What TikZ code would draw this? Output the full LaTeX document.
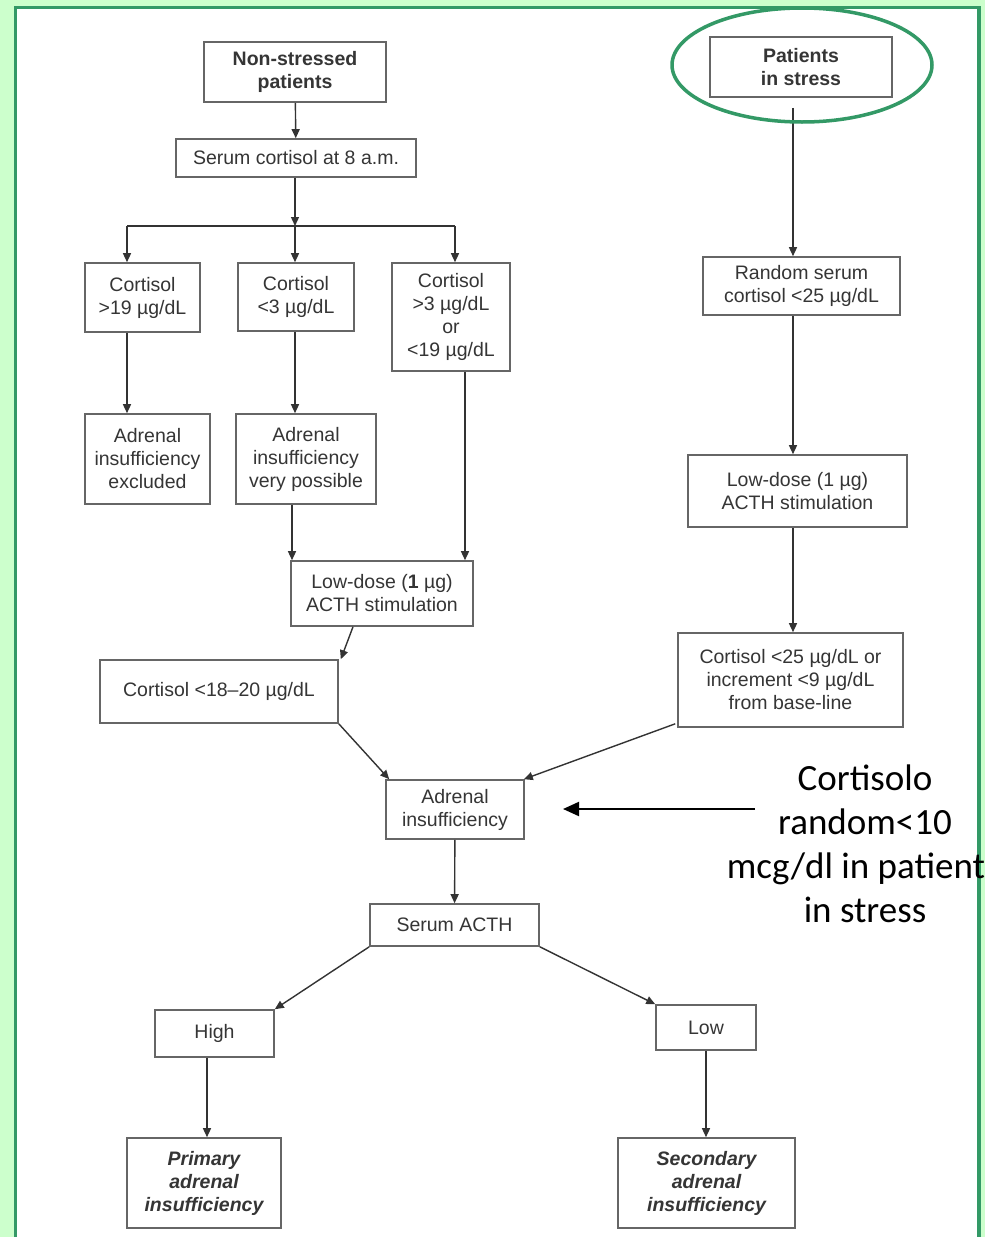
\documentclass[tikz,border=0pt]{standalone}
\usepackage{fontspec}
\setmainfont{Liberation Sans}
\newfontfamily\calibfont{Carlito}
\usetikzlibrary{arrows.meta}
\definecolor{bggreen}{HTML}{CCFFCC}
\definecolor{frgreen}{HTML}{339966}
\definecolor{boxline}{HTML}{666666}
\definecolor{txt}{HTML}{353535}
\definecolor{linec}{HTML}{333333}
\newcommand\boxfs{\fontsize{19.5}{23}\selectfont}
\begin{document}
\begin{tikzpicture}[x=1pt,y=-1pt,
  box/.style={draw=boxline, line width=1.6pt, fill=white, inner sep=0pt, align=center, text=txt, font=\boxfs},
  boldbox/.style={box, font=\boxfs\bfseries},
  bibox/.style={box, font=\boxfs\bfseries\itshape},
  arr/.style={draw=linec, line width=1.4pt, -{Triangle[length=9pt,width=8pt]}},
  plain/.style={draw=linec, line width=1.4pt},
  note/.style={font=\calibfont\fontsize{37}{44}\selectfont, align=center, inner sep=0pt, text=black}
]
\useasboundingbox (0,0) rectangle (985,1237);
\fill[bggreen] (0,0) rectangle (985,1237);
\draw[frgreen, line width=3.5pt, fill=white] (15.5,7.5) rectangle (979,1250);

% left branch
\node[boldbox, minimum width=182pt, minimum height=60pt] (ns) at (295,72) {Non-stressed\\patients};
\node[box, minimum width=240pt, minimum height=38pt] (sc) at (296,158) {Serum cortisol at 8 a.m.};
\node[box, minimum width=115pt, minimum height=69pt] (c3) at (142.5,297.5) {Cortisol\\>19 µg/dL};
\node[box, minimum width=116pt, minimum height=68pt] (c4) at (296,297) {Cortisol\\<3 µg/dL};
\node[box, minimum width=118pt, minimum height=108pt] (c5) at (451,317) {Cortisol\\>3 µg/dL\\or\\<19 µg/dL};
\node[box, minimum width=125pt, minimum height=90pt] (ex) at (147.5,459) {Adrenal\\insufficiency\\excluded};
\node[box, minimum width=140pt, minimum height=90pt] (vp) at (306,459) {Adrenal\\insufficiency\\very possible};
\node[box, minimum width=182pt, minimum height=65pt] (ld1) at (382,593.5) {Low-dose (\textbf{1} µg)\\ACTH stimulation};
\node[box, minimum width=238pt, minimum height=63pt] (c18) at (219,691.5) {Cortisol <18–20 µg/dL};
\node[box, minimum width=138pt, minimum height=59pt] (ai) at (455,809.5) {Adrenal\\insufficiency};
\node[box, minimum width=169pt, minimum height=42pt] (acth) at (454.5,925) {Serum ACTH};
\node[box, minimum width=119pt, minimum height=47pt] (high) at (214.5,1033.5) {High};
\node[bibox, minimum width=154pt, minimum height=90pt] (prim) at (204,1183) {Primary\\adrenal\\insufficiency};

% right branch
\node[boldbox, minimum width=182pt, minimum height=60pt] (pis) at (801,67) {Patients\\in stress};
\node[box, minimum width=197pt, minimum height=58pt] (rs) at (801.5,286) {Random serum\\cortisol <25 µg/dL};
\node[box, minimum width=219pt, minimum height=72pt] (ld2) at (797.5,491) {Low-dose (1 µg)\\ACTH stimulation};
\node[box, minimum width=225pt, minimum height=94pt] (c25) at (790.5,680) {Cortisol <25 µg/dL or\\increment <9 µg/dL\\from base-line};
\node[box, minimum width=100pt, minimum height=45pt] (low) at (706,1027.5) {Low};
\node[bibox, minimum width=177pt, minimum height=90pt] (sec) at (706.5,1183) {Secondary\\adrenal\\insufficiency};

% annotation
\node[note] (nt) at (865,844) {Cortisolo\\random<10\\mcg/dl in patient\rule{18pt}{0pt}\\in stress};

% helper coordinates
\coordinate (br) at (295,226);
\coordinate (xA) at (127,0);
\coordinate (xC) at (455,0);
\coordinate (xD) at (292,0);
\coordinate (xE) at (465,0);
\coordinate (xR) at (793,0);
\coordinate (xH) at (207,0);
\coordinate (xL) at (706,0);
\coordinate (annS) at (755,809);
\coordinate (annE) at (563,809);

% connectors
\draw[arr] (ns) -- (sc);
\draw[arr] (sc.south -| br) -- (br);
\draw[plain] (br -| xA) -- (br -| xC);
\draw[arr] (br -| xA) -- (c3.north -| xA);
\draw[arr] (br) -- (c4.north -| br);
\draw[arr] (br -| xC) -- (c5.north -| xC);
\draw[arr] (c3.south -| xA) -- (ex.north -| xA);
\draw[arr] (c4.south -| br) -- (vp.north -| br);
\draw[arr] (vp.south -| xD) -- (ld1.north -| xD);
\draw[arr] (c5.south -| xE) -- (ld1.north -| xE);
\draw[arr] ([xshift=-29pt]ld1.south) -- ([xshift=2pt]c18.north east);
\draw[arr] (c18.south east) -- ([xshift=4pt]ai.north west);
\draw[arr] ([xshift=-2pt,yshift=4pt]c25.south west) -- ([xshift=-1pt]ai.north east);
\draw[arr] (ai) -- (acth);
\draw[arr] (acth.south west) -- (high.north east);
\draw[arr] (acth.south east) -- (low.north west);
\draw[arr] (high.south -| xH) -- (prim.north -| xH);
\draw[arr] (low.south -| xL) -- (sec.north -| xL);
\draw[arr, shorten <=10pt] (pis.south -| xR) -- (rs.north -| xR);
\draw[arr] (rs.south -| xR) -- (ld2.north -| xR);
\draw[arr] (ld2.south -| xR) -- (c25.north -| xR);
\draw[line width=2pt, -{Triangle[length=16pt,width=14pt]}] (annS) -- (annE);

% highlight ellipse
\draw[frgreen, line width=3.5pt] (802,65) ellipse [x radius=130, y radius=57];
\end{tikzpicture}
\end{document}
